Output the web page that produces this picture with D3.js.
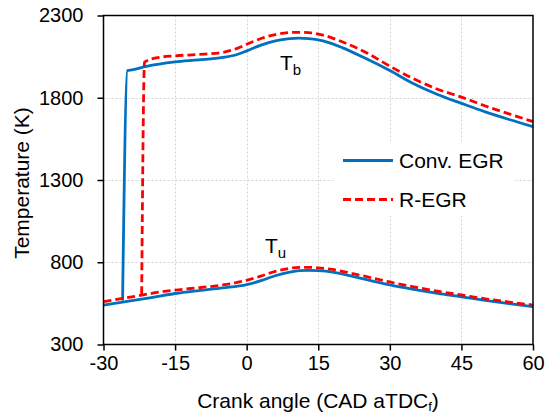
<!DOCTYPE html>
<html>
<head>
<meta charset="utf-8">
<script src="https://cdn.jsdelivr.net/npm/d3@7/dist/d3.min.js"></script>
<style>
  html, body { margin: 0; padding: 0; background: #fff; }
  svg { display: block; }
  text { font-family: "Liberation Sans", Arial, sans-serif; fill: #000; }
</style>
</head>
<body>
<svg id="chart" width="547" height="418"></svg>
<script>
// Crank angle ticks and temperature ticks
const xTicks = [-30, -15, 0, 15, 30, 45, 60];
const yTicks = [300, 800, 1300, 1800, 2300];

// Unburned-zone temperature, conventional EGR (CAD, K)
const convTuX = [-30, -26, -20, -15, -10, -5, 0, 3, 6, 9, 11, 13, 15, 18, 22, 26, 30, 35, 40, 45, 50, 55, 60];
const convTuY = [540, 558, 585, 610, 628, 644, 664, 688, 718, 740, 749, 751, 749, 740, 715, 688, 662, 635, 611, 590, 568, 548, 530];

// Burned-zone temperature, conventional EGR
const convTbX = [-26.0, -25.0, -24.0, -21, -15, -10, -5, -2, 0, 3, 6, 9, 11, 13, 16, 20, 25, 30, 35, 40, 45, 50, 55, 60];
const convTbY = [567, 1965, 1969, 1991, 2018, 2030, 2045, 2063, 2085, 2120, 2146, 2159, 2162, 2160, 2146, 2105, 2038, 1965, 1885, 1820, 1766, 1714, 1668, 1625];

// Unburned-zone temperature, R-EGR
const rTuX = [-30, -26, -22, -18, -15, -10, -5, 0, 3, 6, 9, 11, 13, 15, 18, 22, 26, 30, 35, 40, 45, 50, 55, 60];
const rTuY = [560, 580, 600, 620, 631, 645, 662, 690, 716, 745, 763, 769, 769, 766, 756, 733, 706, 680, 650, 624, 601, 578, 558, 540];

// Burned-zone temperature, R-EGR
const rTbX = [-22.0, -21.4, -19, -15, -10, -5, -2, 0, 3, 6, 9, 11, 13, 16, 20, 25, 30, 35, 40, 45, 50, 55, 60];
const rTbY = [605, 2016, 2042, 2055, 2063, 2076, 2100, 2125, 2160, 2184, 2196, 2198, 2196, 2181, 2140, 2075, 1992, 1915, 1852, 1804, 1750, 1702, 1655];

const seriesNames = ["Conv. EGR", "R-EGR"];
const seriesColors = ["#0070C0", "#FF0000"];

const svg = d3.select("#chart");
const plot = { left: 103.5, right: 533, top: 15.5, bottom: 344.5 };

const x = d3.scaleLinear().domain([-30, 60]).range([plot.left, plot.right]);
const y = d3.scaleLinear().domain([300, 2300]).range([plot.bottom, plot.top]);

// dotted grid
const grid = svg.append("g").attr("stroke", "#d4d4d4").attr("stroke-width", 1).attr("stroke-dasharray", "2,2");
grid.selectAll("line.v").data(xTicks.slice(1, -1)).join("line")
  .attr("x1", d => Math.round(x(d)) + 0.5).attr("x2", d => Math.round(x(d)) + 0.5)
  .attr("y1", plot.top).attr("y2", plot.bottom);
grid.selectAll("line.h").data(yTicks.slice(1, -1)).join("line")
  .attr("x1", plot.left).attr("x2", plot.right)
  .attr("y1", d => Math.round(y(d)) + 0.5).attr("y2", d => Math.round(y(d)) + 0.5);

// curves
const line = d3.line().x(d => x(d[0])).y(d => y(d[1])).curve(d3.curveMonotoneX);
const zip = (a, b) => a.map((v, i) => [v, b[i]]);
const lines = svg.append("g").attr("fill", "none").attr("stroke-width", 2.8);
lines.append("path").datum(zip(convTuX, convTuY)).attr("d", line).attr("stroke", seriesColors[0]);
lines.append("path").datum(zip(convTbX, convTbY)).attr("d", line).attr("stroke", seriesColors[0]);
lines.append("path").datum(zip(rTuX, rTuY)).attr("d", line).attr("stroke", seriesColors[1]).attr("stroke-dasharray", "8,4");
lines.append("path").datum(zip(rTbX, rTbY)).attr("d", line).attr("stroke", seriesColors[1]).attr("stroke-dasharray", "8,4");

// legend
const legend = svg.append("g");
legend.append("rect").attr("x", 334).attr("y", 142).attr("width", 180).attr("height", 74).attr("fill", "#fff");
seriesNames.forEach((name, i) => {
  const ly = 160.5 + i * 39;
  legend.append("line").attr("x1", 343).attr("x2", 393).attr("y1", ly).attr("y2", ly)
    .attr("stroke", seriesColors[i]).attr("stroke-width", 2.8)
    .attr("stroke-dasharray", i === 1 ? "8,4" : null);
  legend.append("text").attr("x", 399).attr("y", ly + 7.5).attr("font-size", 21).text(name);
});

// frame
svg.append("rect").attr("x", plot.left).attr("y", plot.top)
  .attr("width", plot.right - plot.left).attr("height", plot.bottom - plot.top)
  .attr("fill", "none").attr("stroke", "#000").attr("stroke-width", 1.5);

// axes
const fmt = d => String(d);
const xAxis = d3.axisBottom(x).tickValues(xTicks).tickFormat(fmt).tickSizeInner(6).tickSizeOuter(0).tickPadding(5);
const yAxis = d3.axisLeft(y).tickValues(yTicks).tickFormat(fmt).tickSizeInner(6).tickSizeOuter(0).tickPadding(14);
const gx = svg.append("g").attr("transform", `translate(0,${plot.bottom})`).call(xAxis);
const gy = svg.append("g").attr("transform", `translate(${plot.left},0)`).call(yAxis);
[gx, gy].forEach(g => {
  g.select(".domain").remove();
  g.selectAll(".tick line").attr("stroke", "#000").attr("stroke-width", 1.5);
  g.selectAll(".tick text").attr("font-size", 20).attr("font-family", "Liberation Sans, Arial, sans-serif").attr("fill", "#000");
});

// axis titles
const xt = svg.append("text").attr("x", 318).attr("y", 408).attr("text-anchor", "middle").attr("font-size", 21);
xt.append("tspan").text("Crank angle (CAD aTDC");
xt.append("tspan").attr("font-size", 13).attr("dy", 3).text("f");
xt.append("tspan").attr("dy", -3).text(")");

svg.append("text").attr("transform", "translate(29,183) rotate(-90)").attr("text-anchor", "middle")
  .attr("font-size", 21).text("Temperature (K)");

// zone labels
const tb = svg.append("text").attr("x", 280).attr("y", 70).attr("font-size", 21);
tb.append("tspan").text("T");
tb.append("tspan").attr("font-size", 15).attr("dy", 5).text("b");
const tu = svg.append("text").attr("x", 265).attr("y", 253).attr("font-size", 21);
tu.append("tspan").text("T");
tu.append("tspan").attr("font-size", 15).attr("dy", 5).text("u");
</script>
</body>
</html>
